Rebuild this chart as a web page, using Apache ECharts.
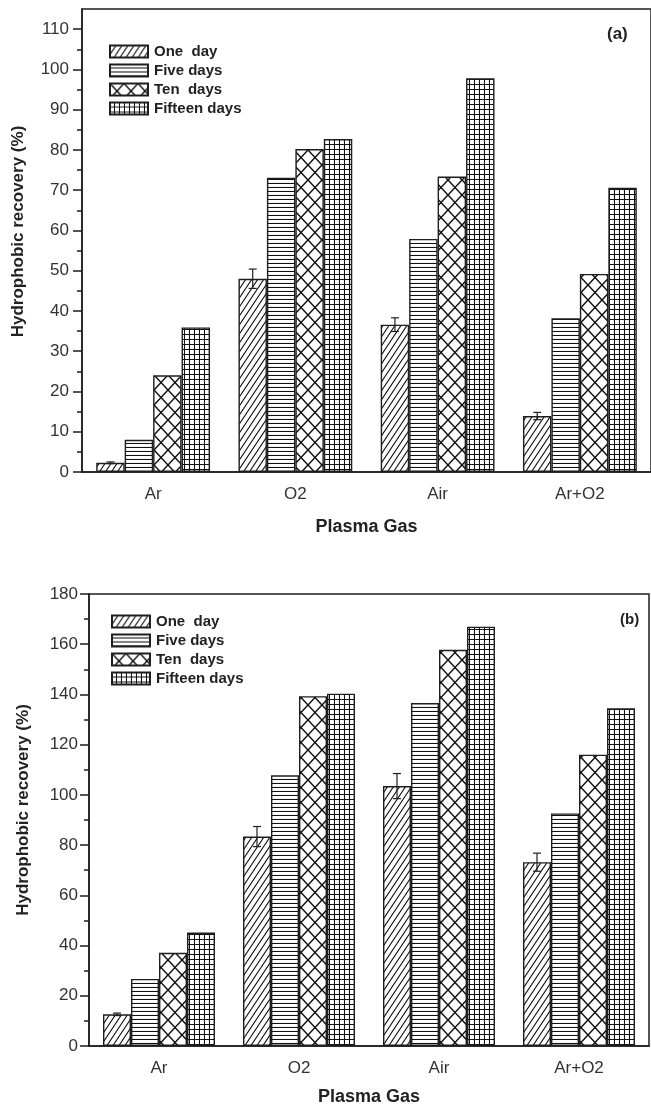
<!DOCTYPE html>
<html>
<head>
<meta charset="utf-8">
<script src="https://cdn.jsdelivr.net/npm/echarts@6/dist/echarts.min.js"></script>
<style>
  html, body { margin: 0; padding: 0; background: #fff; }
  #main { width: 651px; height: 1107px; }
</style>
</head>
<body>
<div id="main"></div>
<script>
// plasma gases on the x axis
const gases = ['Ar', 'O2', 'Air', 'Ar+O2'];
const periods = ['One  day', 'Five days', 'Ten  days', 'Fifteen days'];

// panel (a)
const oneDayA = [2.3, 48.0, 36.6, 13.9];
const oneDayErrA = [0.2, 2.4, 1.7, 0.9];
const fiveDaysA = [8.0, 73.1, 57.9, 38.2];
const tenDaysA = [24.0, 80.2, 73.4, 49.2];
const fifteenDaysA = [35.9, 82.7, 97.8, 70.6];
const yTicksA = [0, 10, 20, 30, 40, 50, 60, 70, 80, 90, 100, 110];

// panel (b)
const oneDayB = [12.6, 83.4, 103.5, 73.2];
const oneDayErrB = [0.5, 4.0, 5.0, 3.6];
const fiveDaysB = [26.7, 107.8, 136.6, 92.6];
const tenDaysB = [37.1, 139.3, 157.8, 116.0];
const fifteenDaysB = [45.2, 140.3, 167.0, 134.5];

const ink = '#1e1e1e';

function makeTile(w, h, draw) {
    const c = document.createElement('canvas');
    c.width = w; c.height = h;
    const ctx = c.getContext('2d');
    ctx.fillStyle = '#fff';
    ctx.fillRect(0, 0, w, h);
    ctx.strokeStyle = '#111';
    ctx.lineWidth = 1.1;
    draw(ctx, w, h);
    return { image: c, repeat: 'repeat' };
}

const hatch = {
    diag: makeTile(6, 9, (ctx, w, h) => {
        ctx.beginPath();
        ctx.moveTo(-w, h); ctx.lineTo(0, 0);
        ctx.moveTo(0, h); ctx.lineTo(w, 0);
        ctx.moveTo(w, h); ctx.lineTo(2 * w, 0);
        ctx.moveTo(0, 2 * h); ctx.lineTo(w, h);
        ctx.moveTo(0, 0); ctx.lineTo(w, -h);
        ctx.stroke();
    }),
    horiz: makeTile(4, 4, (ctx, w, h) => {
        ctx.beginPath();
        ctx.moveTo(0, 3.5); ctx.lineTo(w, 3.5);
        ctx.stroke();
    }),
    cross: makeTile(14, 15, (ctx, w, h) => {
        ctx.lineWidth = 1.5;
        ctx.beginPath();
        ctx.moveTo(0, 0); ctx.lineTo(w, h);
        ctx.moveTo(0, h); ctx.lineTo(w, 0);
        ctx.stroke();
    }),
    grid: makeTile(5, 5, (ctx, w, h) => {
        ctx.beginPath();
        ctx.moveTo(4.5, 0); ctx.lineTo(4.5, h);
        ctx.moveTo(0, 4.5); ctx.lineTo(w, 4.5);
        ctx.stroke();
    })
};

function barSeries(name, data, fill, xi, yi) {
    return {
        type: 'bar',
        name: name,
        xAxisIndex: xi,
        yAxisIndex: yi,
        data: data,
        barGap: '0%',
        barCategoryGap: '20%',
        itemStyle: { color: fill, borderColor: ink, borderWidth: 1.4 },
        emphasis: { disabled: true },
        animation: false
    };
}

// error bar drawn over the first ("one day") bar of each group
function errorSeries(values, errs, xi, yi) {
    return {
        type: 'custom',
        xAxisIndex: xi,
        yAxisIndex: yi,
        z: 5,
        silent: true,
        animation: false,
        data: values.map((v, i) => [i, v, errs[i]]),
        encode: { x: 0, y: 1 },
        renderItem: function (params, api) {
            const idx = api.value(0), v = api.value(1), e = api.value(2);
            const band = api.size([1, 0])[0];
            const barW = band * 0.8 / 4;
            const cx = api.coord([idx, v])[0] - 1.5 * barW;
            const top = api.coord([idx, v + e])[1];
            const bot = api.coord([idx, v - e])[1];
            const style = { stroke: ink, lineWidth: 1.2 };
            return {
                type: 'group',
                children: [
                    { type: 'line', shape: { x1: cx, y1: top, x2: cx, y2: bot }, style: style },
                    { type: 'line', shape: { x1: cx - 4, y1: top, x2: cx + 4, y2: top }, style: style },
                    { type: 'line', shape: { x1: cx - 4, y1: bot, x2: cx + 4, y2: bot }, style: style }
                ]
            };
        }
    };
}

const axisLine = { lineStyle: { color: ink, width: 1.5 } };
const labelFont = { color: '#333', fontSize: 17, fontFamily: 'Liberation Sans, Arial, sans-serif' };
const nameFont = { color: '#222', fontWeight: 'bold', fontFamily: 'Liberation Sans, Arial, sans-serif' };

function catAxes(gi, nameGap) {
    return [
        {
            type: 'category', gridIndex: gi, position: 'bottom', data: gases,
            name: 'Plasma Gas', nameLocation: 'middle', nameGap: nameGap,
            nameTextStyle: Object.assign({ fontSize: 18 }, nameFont),
            axisLine: axisLine,
            axisTick: { alignWithLabel: true, length: 8, lineStyle: { color: ink, width: 1.5 } },
            axisLabel: Object.assign({ margin: 14 }, labelFont)
        },
        {
            type: 'category', gridIndex: gi, position: 'bottom', data: gases,
            axisLine: { show: false },
            axisTick: { length: 4, lineStyle: { color: ink, width: 1.5 } },
            axisLabel: { show: false }
        }
    ];
}

function legendAt(left, top, gap) {
    return {
        left: left, top: top, orient: 'vertical', selectedMode: false, padding: 0,
        icon: 'rect', itemWidth: 38, itemHeight: 12, itemGap: gap,
        data: periods,
        textStyle: Object.assign({ fontSize: 15, padding: [0, 0, 0, 1] }, nameFont)
    };
}

const chart = echarts.init(document.getElementById('main'), null, { renderer: 'canvas' });

chart.setOption({
    backgroundColor: '#fff',
    animation: false,
    title: [
        { text: '(a)', left: 602, top: 21, textStyle: Object.assign({ fontSize: 17 }, nameFont) },
        { text: '(b)', left: 615, top: 607, textStyle: Object.assign({ fontSize: 15 }, nameFont) }
    ],
    legend: [legendAt(109, 44, 4), legendAt(111, 614, 4)],
    grid: [
        { left: 82, top: 9, width: 570, height: 463, show: true, borderColor: ink, borderWidth: 1.5, containLabel: false },
        { left: 89, top: 594, width: 560, height: 453, show: true, borderColor: ink, borderWidth: 1.5, containLabel: false }
    ],
    xAxis: [].concat(catAxes(0, 46), catAxes(1, 42)),
    yAxis: [
        {
            type: 'value', gridIndex: 0, position: 'left', min: 0, max: 115, interval: 10,
            name: 'Hydrophobic recovery (%)', nameLocation: 'middle', nameGap: 55,
            nameTextStyle: Object.assign({ fontSize: 17, padding: [0, 0, 0, 18] }, nameFont),
            axisLine: Object.assign({ show: true }, axisLine),
            axisTick: { show: true, length: 9, customValues: yTicksA, lineStyle: { color: ink, width: 1.5 } },
            axisLabel: Object.assign({ margin: 13, customValues: yTicksA }, labelFont),
            splitLine: { show: false }
        },
        {
            type: 'value', gridIndex: 0, position: 'left', min: 0, max: 115,
            axisLine: { show: false },
            axisTick: { show: true, length: 5, customValues: yTicksA.slice(0, -1).map(t => t + 5), lineStyle: { color: ink, width: 1.5 } },
            axisLabel: { show: false },
            splitLine: { show: false }
        },
        {
            type: 'value', gridIndex: 1, position: 'left', min: 0, max: 180, interval: 20,
            name: 'Hydrophobic recovery (%)', nameLocation: 'middle', nameGap: 57,
            nameTextStyle: Object.assign({ fontSize: 17, padding: [0, 0, 0, 20] }, nameFont),
            axisLine: Object.assign({ show: true }, axisLine),
            axisTick: { show: true, length: 9, lineStyle: { color: ink, width: 1.5 } },
            minorTick: { show: true, splitNumber: 2, length: 5, lineStyle: { color: ink, width: 1.5 } },
            axisLabel: Object.assign({ margin: 11 }, labelFont),
            splitLine: { show: false }
        }
    ],
    series: [
        barSeries(periods[0], oneDayA, hatch.diag, 0, 0),
        barSeries(periods[1], fiveDaysA, hatch.horiz, 0, 0),
        barSeries(periods[2], tenDaysA, hatch.cross, 0, 0),
        barSeries(periods[3], fifteenDaysA, hatch.grid, 0, 0),
        errorSeries(oneDayA, oneDayErrA, 0, 0),
        barSeries(periods[0], oneDayB, hatch.diag, 2, 2),
        barSeries(periods[1], fiveDaysB, hatch.horiz, 2, 2),
        barSeries(periods[2], tenDaysB, hatch.cross, 2, 2),
        barSeries(periods[3], fifteenDaysB, hatch.grid, 2, 2),
        errorSeries(oneDayB, oneDayErrB, 2, 2)
    ]
});

window.addEventListener('resize', () => chart.resize());
</script>
</body>
</html>
